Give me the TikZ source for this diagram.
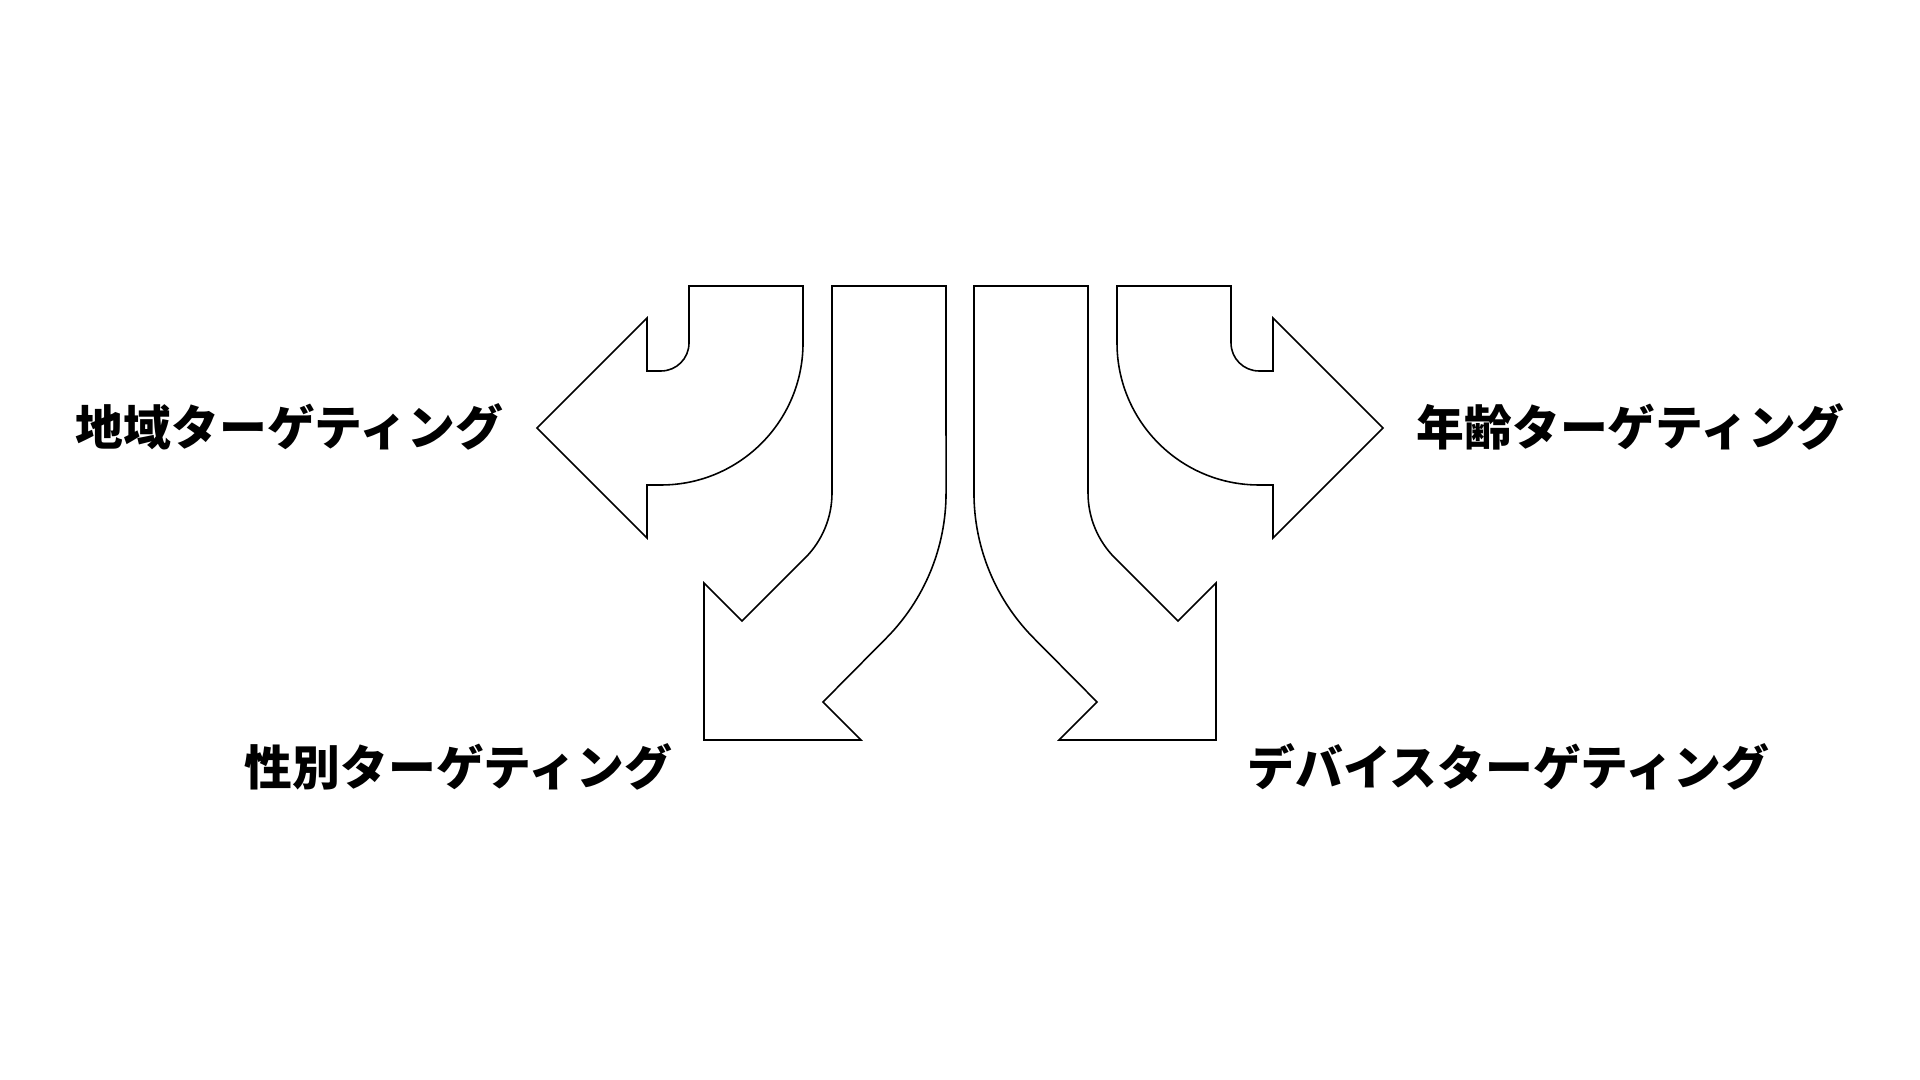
\documentclass[tikz,border=0pt]{standalone}
\usepackage{fontspec}
\setmainfont{Noto Sans CJK JP}
\usepackage{tikz}

\begin{document}
\begin{tikzpicture}[lbl/.style={inner sep=0pt,font=\fontsize{13.6pt}{16pt}\selectfont\bfseries},
  bent/.style={draw,line width=0.45pt,line join=miter}]
\useasboundingbox (0,0) rectangle (19.2,10.8);
% left: turns to the left
\draw[bent] (6.89,7.94) -- (6.89,7.37) arc[start angle=0,end angle=-90,radius=0.28]
  -- (6.47,7.09) -- (6.47,7.62) -- (5.37,6.52) -- (6.47,5.42) -- (6.47,5.95)
  -- (6.61,5.95) arc[start angle=-90,end angle=0,radius=1.42] -- (8.03,7.94) -- cycle;
% left: goes down
\draw[bent] (8.32,7.94) -- (8.32,5.87) arc[start angle=0,end angle=-45,radius=0.92]
  -- (7.42,4.59) -- (7.04,4.97) -- (7.04,3.40) -- (8.61,3.40) -- (8.23,3.78)
  -- (8.857,4.413) arc[start angle=-45,end angle=0,radius=2.06] -- (9.46,7.94) -- cycle;
% right: goes down
\draw[bent] (10.88,7.94) -- (10.88,5.87) arc[start angle=180,end angle=225,radius=0.92]
  -- (11.78,4.59) -- (12.16,4.97) -- (12.16,3.40) -- (10.59,3.40) -- (10.97,3.78)
  -- (10.343,4.413) arc[start angle=225,end angle=180,radius=2.06] -- (9.74,7.94) -- cycle;
% right: turns to the right
\draw[bent] (12.31,7.94) -- (12.31,7.37) arc[start angle=180,end angle=270,radius=0.28]
  -- (12.73,7.09) -- (12.73,7.62) -- (13.83,6.52) -- (12.73,5.42) -- (12.73,5.95)
  -- (12.59,5.95) arc[start angle=270,end angle=180,radius=1.42] -- (11.17,7.94) -- cycle;
\node[lbl,anchor=base east] (chiiki) at (5.04,6.34) {地域ターゲティング};
\node[lbl,anchor=base east] (seibetsu) at (6.73,2.94) {性別ターゲティング};
\node[lbl,anchor=base west] (nenrei) at (14.16,6.34) {年齢ターゲティング};
\node[lbl,anchor=base west] (device) at (12.47,2.94) {デバイスターゲティング};
\end{tikzpicture}
\end{document}
